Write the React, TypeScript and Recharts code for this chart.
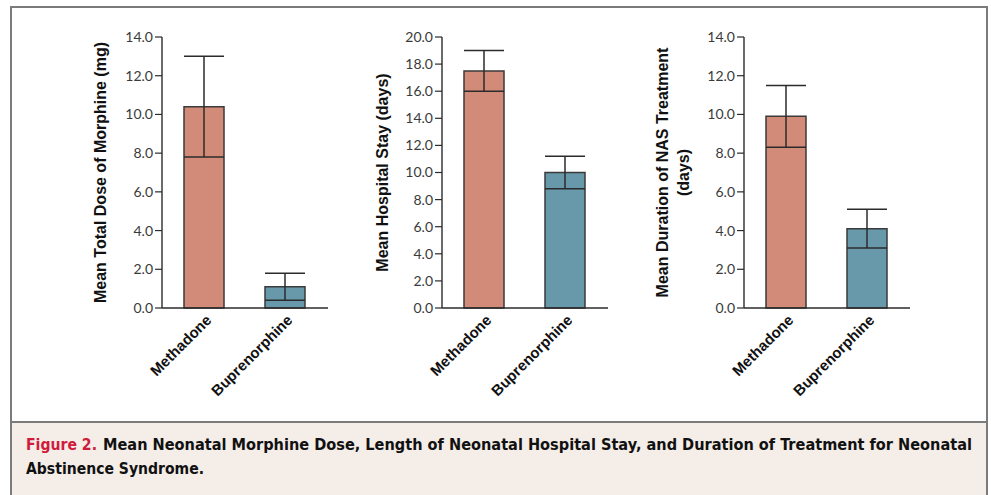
import React from "react";
import { BarChart, Bar, Cell, XAxis, YAxis, ErrorBar, Label } from "recharts";

// ─── Data ────────────────────────────────────────────────────────────────────

const categories = ["Methadone", "Buprenorphine"];

const morphineMean = [10.4, 1.1];
const morphineLow = [7.8, 0.4];
const morphineHigh = [13.0, 1.8];

const stayMean = [17.5, 10.0];
const stayLow = [16.0, 8.8];
const stayHigh = [19.0, 11.2];

const nasMean = [9.9, 4.1];
const nasLow = [8.3, 3.1];
const nasHigh = [11.5, 5.1];

const ticks14 = [0, 2, 4, 6, 8, 10, 12, 14];
const ticks20 = [0, 2, 4, 6, 8, 10, 12, 14, 16, 18, 20];

const barColors = ["#d28b78", "#6799aa"];

// ─── Shared styles ───────────────────────────────────────────────────────────

const AXIS = "#2b2b2b";
const BOLD_FONT = "'Liberation Sans', Arial, sans-serif";
const TICK_FONT = "Lato, 'Open Sans', sans-serif";
const CAPTION_FONT = "'Liberation Sans Narrow', 'DejaVu Sans Condensed', sans-serif";

function buildRows(mean: number[], low: number[], high: number[]) {
  return categories.map((name, i) => ({
    name,
    value: mean[i],
    err: [mean[i] - low[i], high[i] - mean[i]],
  }));
}

function CategoryTick({ x, y, payload }: any) {
  return (
    <text
      transform={`translate(${x + 9},${y + 13}) rotate(-45)`}
      textAnchor="end"
      fontFamily={BOLD_FONT}
      fontWeight={700}
      fontSize={15}
      fill="#111"
    >
      {payload.value}
    </text>
  );
}

interface PanelProps {
  left: number;
  width: number;
  axisWidth: number;
  titles: Array<{ text: string; dx: number }>;
  max: number;
  ticks: number[];
  mean: number[];
  low: number[];
  high: number[];
}

function Panel({ left, width, axisWidth, titles, max, ticks, mean, low, high }: PanelProps) {
  const rows = buildRows(mean, low, high);
  const renderTitle = (props: any) => {
    const vb = props.viewBox || { x: 0, y: 37, height: 271 };
    const cy = vb.y + vb.height / 2;
    return (
      <g>
        {titles.map((t) => (
          <text
            key={t.text}
            x={vb.x + t.dx}
            y={cy}
            transform={`rotate(-90, ${vb.x + t.dx}, ${cy})`}
            textAnchor="middle"
            dominantBaseline="central"
            fontFamily={BOLD_FONT}
            fontWeight={700}
            fontSize={16}
            fill="#111"
          >
            {t.text}
          </text>
        ))}
      </g>
    );
  };

  return (
    <div style={{ position: "absolute", left, top: 0 }}>
      <BarChart
        width={width}
        height={400}
        data={rows}
        margin={{ top: 37, right: 5, left: 0, bottom: 0 }}
        barCategoryGap={0}
      >
        <XAxis
          dataKey="name"
          height={92}
          interval={0}
          padding={{ left: 1, right: 3 }}
          axisLine={{ stroke: AXIS, strokeWidth: 1.4 }}
          tickLine={false}
          tickSize={0}
          tickMargin={0}
          tick={<CategoryTick />}
        />
        <YAxis
          type="number"
          domain={[0, max]}
          ticks={ticks}
          width={axisWidth}
          tickFormatter={(v: number) => v.toFixed(1)}
          axisLine={{ stroke: AXIS, strokeWidth: 1.4 }}
          tickLine={{ stroke: AXIS, strokeWidth: 1.2 }}
          tickSize={7}
          tickMargin={2}
          tick={{ fontSize: 14, fill: "#3a3a3a", fontFamily: TICK_FONT }}
        >
          <Label content={renderTitle} />
        </YAxis>
        <Bar
          dataKey="value"
          barSize={40}
          stroke="#3a3a3a"
          strokeWidth={1.5}
          isAnimationActive={false}
        >
          {rows.map((r, i) => (
            <Cell key={r.name} fill={barColors[i]} />
          ))}
          <ErrorBar dataKey="err" width={20} stroke="#2b2b2b" strokeWidth={1.5} direction="y" />
        </Bar>
      </BarChart>
    </div>
  );
}

export default function App() {
  return (
    <div
      style={{
        position: "absolute",
        left: 0,
        top: 0,
        width: 991,
        height: 495,
        background: "#fff",
        overflow: "hidden",
      }}
    >
      {/* Figure frame */}
      <div
        style={{
          position: "absolute",
          left: 10,
          top: 6,
          width: 974,
          height: 500,
          border: "2px solid #7b7b7b",
          borderBottom: "none",
        }}
      />
      {/* Caption band */}
      <div
        style={{
          position: "absolute",
          left: 12,
          top: 421,
          width: 974,
          height: 80,
          background: "#f4ede8",
          borderTop: "2px solid #7b7b7b",
        }}
      />
      <svg
        width={991}
        height={495}
        style={{ position: "absolute", left: 0, top: 0 }}
      >
        <text
          x={26}
          y={450}
          textLength={71}
          lengthAdjust="spacingAndGlyphs"
          fontFamily={CAPTION_FONT}
          fontWeight={700}
          fontSize={16.3}
          fill="#d01c3c"
        >
          Figure 2.
        </text>
        <text
          x={103}
          y={450}
          textLength={869}
          lengthAdjust="spacingAndGlyphs"
          fontFamily={CAPTION_FONT}
          fontWeight={700}
          fontSize={16.3}
          fill="#111"
        >
          Mean Neonatal Morphine Dose, Length of Neonatal Hospital Stay, and Duration of Treatment for Neonatal
        </text>
        <text
          x={26}
          y={474}
          textLength={178}
          lengthAdjust="spacingAndGlyphs"
          fontFamily={CAPTION_FONT}
          fontWeight={700}
          fontSize={16.3}
          fill="#111"
        >
          Abstinence Syndrome.
        </text>
      </svg>

      <Panel
        left={80}
        width={253}
        axisWidth={82}
        titles={[{ text: "Mean Total Dose of Morphine (mg)", dx: 20 }]}
        max={14}
        ticks={ticks14}
        mean={morphineMean}
        low={morphineLow}
        high={morphineHigh}
      />
      <Panel
        left={360}
        width={253}
        axisWidth={82}
        titles={[{ text: "Mean Hospital Stay (days)", dx: 22 }]}
        max={20}
        ticks={ticks20}
        mean={stayMean}
        low={stayLow}
        high={stayHigh}
      />
      <Panel
        left={640}
        width={275}
        axisWidth={104}
        titles={[
          { text: "Mean Duration of NAS Treatment", dx: 22 },
          { text: "(days)", dx: 43 },
        ]}
        max={14}
        ticks={ticks14}
        mean={nasMean}
        low={nasLow}
        high={nasHigh}
      />
    </div>
  );
}
